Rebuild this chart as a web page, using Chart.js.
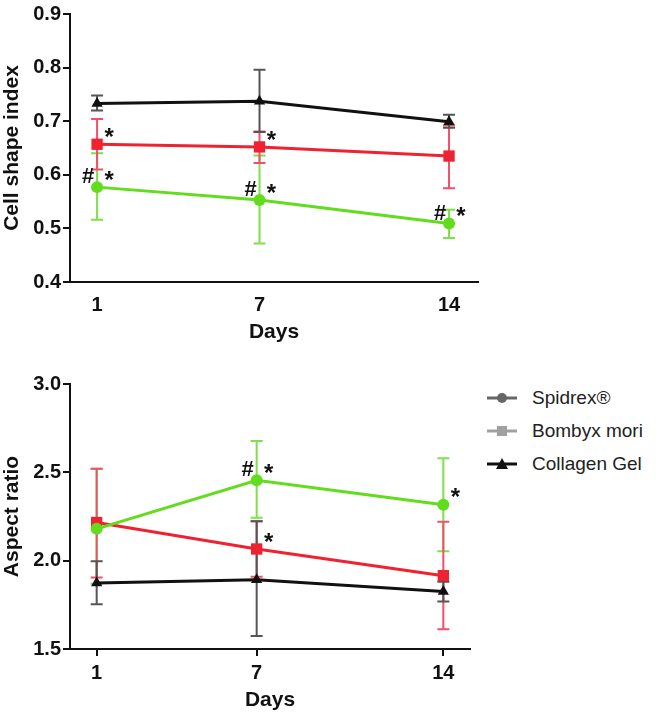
<!DOCTYPE html>
<html>
<head>
<meta charset="utf-8">
<script src="https://cdn.jsdelivr.net/npm/chart.js@4.4.0/dist/chart.umd.min.js"></script>
<style>
  body { margin: 0; background: #fff; width: 660px; height: 716px; position: relative; overflow: hidden; }
  .panel { position: absolute; left: 0; }
  #top { top: 0; width: 490px; height: 345px; }
  #bottom { top: 350px; width: 480px; height: 366px; }
  #legend { position: absolute; left: 487px; top: 381px; font-family: "Liberation Sans", Arial, sans-serif; font-size: 19px; color: #222; }
  #legend div { height: 33px; display: flex; align-items: center; }
  #legend svg { margin-right: 15px; }
</style>
</head>
<body>
<div class="panel" id="top"><canvas id="chartShape"></canvas></div>
<div class="panel" id="bottom"><canvas id="chartAspect"></canvas></div>
<div id="legend">
  <div><svg width="30" height="14"><line x1="0" y1="7" x2="30" y2="7" stroke="#666" stroke-width="3"/><circle cx="15" cy="7" r="5" fill="#666"/></svg>Spidrex®</div>
  <div><svg width="30" height="14"><line x1="0" y1="7" x2="30" y2="7" stroke="#a0a0a0" stroke-width="3"/><rect x="10" y="2" width="10" height="10" fill="#a0a0a0"/></svg>Bombyx mori</div>
  <div><svg width="30" height="14"><line x1="0" y1="7" x2="30" y2="7" stroke="#111" stroke-width="3"/><polygon points="15,1 21,12 9,12" fill="#111"/></svg>Collagen Gel</div>
</div>
<script>
// Datos
const days = [1, 7, 14];

// Cell shape index
const shapeTicks = [0.4, 0.5, 0.6, 0.7, 0.8, 0.9];
const shapeSpidrex = [0.577, 0.553, 0.509];
const shapeSpidrexHi = [0.640, 0.636, 0.535];
const shapeSpidrexLo = [0.516, 0.472, 0.482];
const shapeBombyx = [0.657, 0.652, 0.635];
const shapeBombyxHi = [0.704, 0.681, 0.692];
const shapeBombyxLo = [0.610, 0.622, 0.575];
const shapeCollagen = [0.733, 0.737, 0.699];
const shapeCollagenHi = [0.748, 0.796, 0.712];
const shapeCollagenLo = [0.720, 0.680, 0.688];
const shapeSpidrexMarks = ['#*', '#*', '#*'];
const shapeBombyxMarks = ['*', '*', ''];
const shapeCollagenMarks = ['', '', ''];

// Aspect ratio
const aspectTicks = [1.5, 2.0, 2.5, 3.0];
const aspectSpidrex = [2.18, 2.455, 2.316];
const aspectSpidrexHi = [2.52, 2.678, 2.58];
const aspectSpidrexLo = [1.87, 2.243, 2.053];
const aspectBombyx = [2.216, 2.066, 1.915];
const aspectBombyxHi = [2.52, 2.223, 2.22];
const aspectBombyxLo = [1.905, 1.909, 1.612];
const aspectCollagen = [1.873, 1.892, 1.826];
const aspectCollagenHi = [1.996, 2.223, 1.88];
const aspectCollagenLo = [1.754, 1.574, 1.769];
const aspectSpidrexMarks = ['', '#*', '*'];
const aspectBombyxMarks = ['', '*', ''];
const aspectCollagenMarks = ['', '', ''];

const GREEN = '#62dd1e';
const RED = '#ee2230';
const BLACK = '#111111';
const FONT = '"Liberation Sans", Arial, sans-serif';

// Plugin: barras de error y marcas de significancia
const errorBarsPlugin = {
  id: 'errorBars',
  beforeDatasetsDraw(chart) {
    const ctx = chart.ctx;
    const xs = chart.scales.x, ys = chart.scales.y;
    chart.data.datasets.forEach((ds) => {
      ctx.save();
      ctx.strokeStyle = ds.errColor;
      ctx.lineWidth = 2;
      ds.data.forEach((p, i) => {
        const x = xs.getPixelForValue(p.x);
        const yh = ys.getPixelForValue(ds.hi[i]);
        const yl = ys.getPixelForValue(ds.lo[i]);
        ctx.beginPath();
        ctx.moveTo(x, yh); ctx.lineTo(x, yl);
        ctx.moveTo(x - 6, yh); ctx.lineTo(x + 6, yh);
        ctx.moveTo(x - 6, yl); ctx.lineTo(x + 6, yl);
        ctx.stroke();
      });
      ctx.restore();
    });
  },
  afterDatasetsDraw(chart) {
    const ctx = chart.ctx;
    const xs = chart.scales.x, ys = chart.scales.y;
    ctx.save();
    ctx.fillStyle = '#111';
    ctx.textAlign = 'center';
    ctx.textBaseline = 'middle';
    chart.data.datasets.forEach((ds) => {
      ds.data.forEach((p, i) => {
        const m = ds.marks[i];
        if (!m) return;
        const x = xs.getPixelForValue(p.x);
        const y = ys.getPixelForValue(p.y);
        if (m.includes('#')) {
          ctx.font = 'bold 22px ' + FONT;
          ctx.fillText('#', x - 9, y - 10);
        }
        if (m.includes('*')) {
          ctx.font = 'bold 24px ' + FONT;
          ctx.fillText('*', x + 12, y - 6);
        }
      });
    });
    ctx.restore();
  }
};

function makeSeries(label, values, hi, lo, marks, color, errColor, style) {
  const radius = { circle: 6, rect: 8, triangle: 6.5 };
  return {
    label: label,
    data: values.map((v, i) => ({ x: days[i], y: v })),
    hi: hi,
    lo: lo,
    marks: marks,
    errColor: errColor,
    borderColor: color,
    backgroundColor: color,
    borderWidth: 3,
    pointStyle: style,
    pointRadius: radius[style],
    pointBorderWidth: 0,
    tension: 0
  };
}

function renderPanel(canvasId, opts) {
  const axisFont = { family: FONT, size: 20, weight: 'bold' };
  return new Chart(document.getElementById(canvasId), {
    type: 'line',
    data: { datasets: opts.datasets },
    options: {
      responsive: true,
      maintainAspectRatio: false,
      animation: false,
      layout: { padding: opts.padding },
      plugins: { legend: { display: false }, tooltip: { enabled: false } },
      scales: {
        x: {
          type: 'linear',
          min: 0,
          max: opts.xMax,
          afterBuildTicks: (axis) => { axis.ticks = days.map(v => ({ value: v })); },
          afterFit: (scale) => { scale.height = opts.xHeight; },
          border: { color: BLACK, width: 2 },
          grid: { drawOnChartArea: false, drawTicks: opts.xTicks, tickLength: 7, color: BLACK, lineWidth: 2 },
          ticks: { color: '#111', font: axisFont, padding: opts.xTicks ? 5 : 11 },
          title: { display: true, text: 'Days', color: '#111', font: { family: FONT, size: 21, weight: 'bold' }, padding: { top: 0, bottom: opts.titlePad } }
        },
        y: {
          min: opts.yTicks[0],
          max: opts.yTicks[opts.yTicks.length - 1],
          afterBuildTicks: (axis) => { axis.ticks = opts.yTicks.map(v => ({ value: v })); },
          afterFit: (scale) => { scale.width = 70; },
          border: { color: BLACK, width: 2 },
          grid: { drawOnChartArea: false, drawTicks: true, tickLength: 7, color: BLACK, lineWidth: 2 },
          ticks: { color: '#111', font: axisFont, padding: 2, callback: (v) => Number(v).toFixed(1) },
          title: { display: true, text: opts.yTitle, color: '#111', font: { family: FONT, size: 21, weight: 'bold' }, padding: { top: 0, bottom: 0 } }
        }
      }
    },
    plugins: [errorBarsPlugin]
  });
}

renderPanel('chartShape', {
  yTitle: 'Cell shape index',
  yTicks: shapeTicks,
  xMax: 15.07,
  xHeight: 63,
  xTicks: false,
  titlePad: 0,
  padding: { top: 12, right: 12, left: 0, bottom: 0 },
  datasets: [
    makeSeries('Spidrex®', shapeSpidrex, shapeSpidrexHi, shapeSpidrexLo, shapeSpidrexMarks, GREEN, '#7ee04a', 'circle'),
    makeSeries('Bombyx mori', shapeBombyx, shapeBombyxHi, shapeBombyxLo, shapeBombyxMarks, RED, '#f0506a', 'rect'),
    makeSeries('Collagen Gel', shapeCollagen, shapeCollagenHi, shapeCollagenLo, shapeCollagenMarks, BLACK, '#555555', 'triangle')
  ]
});

renderPanel('chartAspect', {
  yTitle: 'Aspect ratio',
  yTicks: aspectTicks,
  xMax: 15,
  xHeight: 67,
  xTicks: true,
  titlePad: 3,
  padding: { top: 34, right: 10, left: 0, bottom: 0 },
  datasets: [
    makeSeries('Spidrex®', aspectSpidrex, aspectSpidrexHi, aspectSpidrexLo, aspectSpidrexMarks, GREEN, '#7ee04a', 'circle'),
    makeSeries('Bombyx mori', aspectBombyx, aspectBombyxHi, aspectBombyxLo, aspectBombyxMarks, RED, '#f0506a', 'rect'),
    makeSeries('Collagen Gel', aspectCollagen, aspectCollagenHi, aspectCollagenLo, aspectCollagenMarks, BLACK, '#555555', 'triangle')
  ]
});
</script>
</body>
</html>
